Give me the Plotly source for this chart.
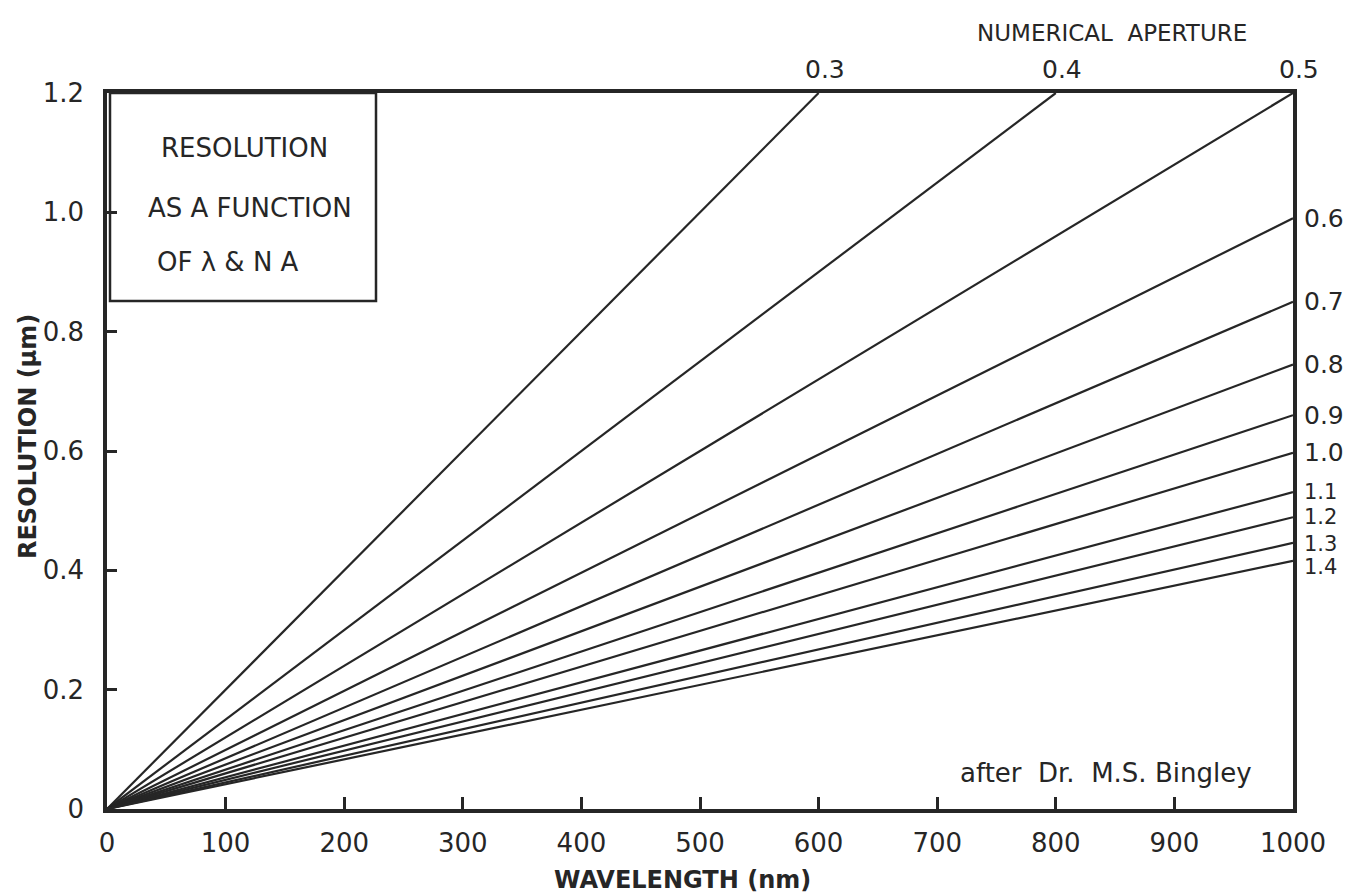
import plotly.graph_objects as go

# ---- data ----
na_labels = ["0.3", "0.4", "0.5", "0.6", "0.7", "0.8", "0.9", "1.0", "1.1", "1.2", "1.3", "1.4"]
start_wavelength = [0, 0, 0, 0, 0, 0, 0, 0, 0, 0, 0, 0]
start_resolution = [0, 0, 0, 0, 0, 0, 0, 0, 0, 0, 0, 0]
end_wavelength = [600, 800, 1000, 1000, 1000, 1000, 1000, 1000, 1000, 1000, 1000, 1000]
end_resolution = [1.2, 1.2, 1.2, 0.99, 0.85, 0.745, 0.66, 0.597, 0.531, 0.489, 0.446, 0.416]

x_ticks = [0, 100, 200, 300, 400, 500, 600, 700, 800, 900, 1000]
y_ticks = [0, 0.2, 0.4, 0.6, 0.8, 1.0, 1.2]
y_tick_text = ["0", "0.2", "0.4", "0.6", "0.8", "1.0", "1.2"]

FONT = "DejaVu Sans"
INK = "#262626"

# page is offset by the default 8px body margin
OFF = 8
W, H = 1355 - OFF, 894 - OFF
PL, PR, PT, PB = 107, 1293, 93, 809          # plot area in page pixels
L, T = PL - OFF, PT - OFF
R, B = (OFF + W) - PR, (OFF + H) - PB
pw, ph = PR - PL, PB - PT


def px(xp, yp):
    return (xp - PL) / pw, (PB - yp) / ph


fig = go.Figure()
for lab, x0, y0, x1, y1 in zip(na_labels, start_wavelength, start_resolution,
                               end_wavelength, end_resolution):
    fig.add_trace(go.Scatter(x=[x0, x1], y=[y0, y1], mode="lines",
                             line=dict(color=INK, width=2.2), name=lab,
                             showlegend=False, hoverinfo="skip"))

# label styling for the crowded right-hand labels (pixel nudges, font size)
crowded = {"1.1": (21, 0), "1.2": (21, 0), "1.3": (21, -1), "1.4": (21, -6)}

annotations = []
for lab, x1, y1 in zip(na_labels, end_wavelength, end_resolution):
    if y1 >= 1.2:
        annotations.append(dict(x=x1, y=1.2, xref="x", yref="y", text=lab,
                                showarrow=False, xanchor="center", yanchor="bottom",
                                xshift=6, yshift=7,
                                font=dict(family=FONT, size=25, color=INK)))
    else:
        size, ys = crowded.get(lab, (25, 0))
        annotations.append(dict(x=1000, y=y1, xref="x", yref="y", text=lab,
                                showarrow=False, xanchor="left", yanchor="middle",
                                xshift=10, yshift=ys, borderpad=0,
                                font=dict(family=FONT, size=size, color=INK)))


def txt(xp, yp, text, size, angle=0):
    x, y = px(xp, yp)
    annotations.append(dict(x=x, y=y, xref="paper", yref="paper", text=text,
                            showarrow=False, xanchor="center", yanchor="middle",
                            textangle=angle,
                            font=dict(family=FONT, size=size, color=INK)))


txt(1112, 33, "NUMERICAL  APERTURE", 23)
txt(244, 148, "RESOLUTION", 26)
txt(250, 208, "AS A FUNCTION", 26)
txt(228, 262, "OF \u03bb & N A", 26)
txt(1106, 773, "after  Dr.  M.S. Bingley", 26)
txt(682, 880, "<b>WAVELENGTH (nm)</b>", 24)
txt(28, 437, "<b>RESOLUTION (\u03bcm)</b>", 24, angle=-90)

bx0, by0 = px(110, 301)
bx1, _ = px(376, 93)

fig.update_layout(
    width=W, height=H,
    margin=dict(l=L, r=R, t=T, b=B, pad=0),
    paper_bgcolor="white", plot_bgcolor="white",
    annotations=annotations,
    shapes=[dict(type="rect", xref="paper", yref="paper",
                 x0=bx0, x1=bx1, y0=by0, y1=1,
                 line=dict(color=INK, width=2.5), fillcolor="rgba(0,0,0,0)")],
    xaxis=dict(range=[0, 1000], tickvals=x_ticks, ticks="inside", ticklen=12,
               tickwidth=3, tickcolor=INK, showline=True, linewidth=3.5,
               linecolor=INK, mirror=True, showgrid=False, zeroline=False,
               tickfont=dict(family=FONT, size=26, color=INK),
               ticklabelstandoff=8),
    yaxis=dict(range=[0, 1.2], tickvals=y_ticks, ticktext=y_tick_text,
               ticks="inside", ticklen=10, tickwidth=3, tickcolor=INK,
               showline=True, linewidth=3.5, linecolor=INK, mirror=True,
               showgrid=False, zeroline=False,
               tickfont=dict(family=FONT, size=26, color=INK),
               ticklabelstandoff=14),
)

fig.write_html("out.html")
